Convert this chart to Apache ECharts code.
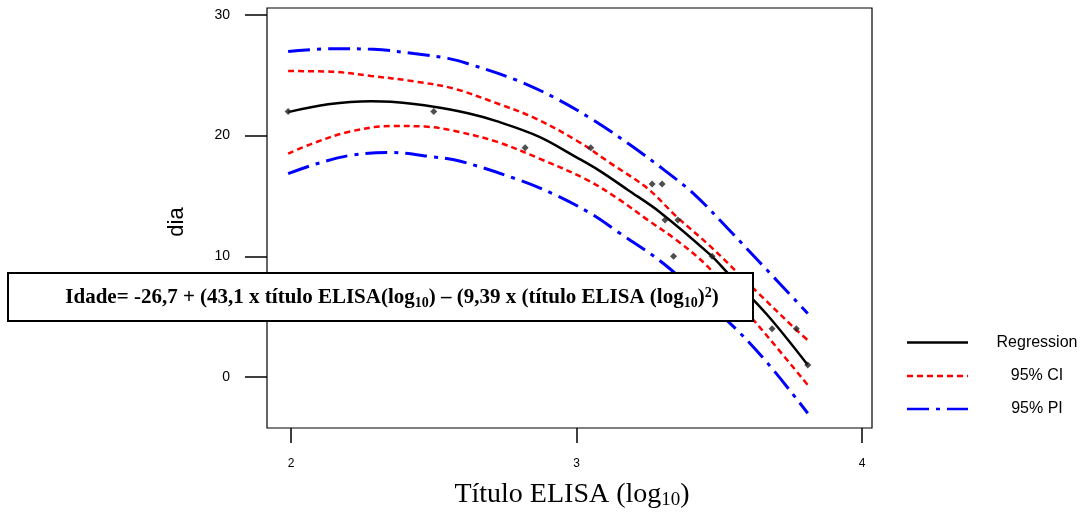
<!DOCTYPE html>
<html>
<head>
<meta charset="utf-8">
<script src="https://cdn.jsdelivr.net/npm/echarts@6/dist/echarts.min.js"></script>
<style>
  html, body { margin: 0; padding: 0; background: #fff; }
  #chart { width: 1088px; height: 517px; }
</style>
</head>
<body>
<div id="chart"></div>
<script>
// Axis ticks
const xTicks = [2, 3, 4];
const yTicks = [0, 10, 20, 30];

// Observed ages (dia) against ELISA titre (log10)
const observed = [
  [1.99, 22], [2.5, 22], [2.82, 19], [3.05, 19], [3.265, 16], [3.30, 16],
  [3.31, 13], [3.355, 13], [3.34, 10], [3.475, 10], [3.685, 4], [3.77, 4], [3.81, 1]
];

// Fitted quadratic regression
const regression = [
  [1.99, 21.95], [2.13, 22.6], [2.28, 22.85], [2.35, 22.8], [2.50, 22.4], [2.62, 21.85],
  [2.72, 21.2], [2.87, 19.9], [3.00, 18.2], [3.08, 17.1], [3.18, 15.5], [3.29, 13.7],
  [3.47, 10.1], [3.53, 8.6], [3.67, 5.1], [3.81, 1.0]
];

// 95% confidence band
const ciUpper = [
  [1.99, 25.35], [2.14, 25.3], [2.28, 24.95], [2.43, 24.5], [2.57, 23.9], [2.73, 22.6],
  [2.85, 21.5], [3.00, 19.6], [3.12, 17.7], [3.25, 15.6], [3.35, 13.3], [3.47, 10.8],
  [3.63, 7.1], [3.77, 3.9], [3.81, 3.05]
];
const ciLower = [
  [1.99, 18.5], [2.07, 19.3], [2.20, 20.3], [2.35, 20.8], [2.47, 20.75], [2.57, 20.4],
  [2.72, 19.5], [2.87, 18.1], [3.04, 16.3], [3.15, 14.7], [3.25, 13.0], [3.35, 11.35],
  [3.46, 9.14], [3.61, 5.0], [3.67, 3.34], [3.81, -0.66]
];

// 95% prediction band
const piUpper = [
  [1.99, 26.98], [2.14, 27.2], [2.29, 27.15], [2.43, 26.8], [2.55, 26.4], [2.62, 25.96],
  [2.79, 24.6], [2.93, 23.06], [3.06, 21.27], [3.19, 19.2], [3.31, 17.1], [3.41, 15.2],
  [3.53, 12.3], [3.64, 9.55], [3.81, 5.27]
];
const piLower = [
  [1.99, 16.85], [2.09, 17.67], [2.21, 18.37], [2.35, 18.6], [2.50, 18.23], [2.59, 17.9],
  [2.79, 16.4], [2.93, 15.05], [3.06, 13.4], [3.14, 12.1], [3.31, 9.3], [3.55, 4.17],
  [3.67, 1.13], [3.81, -3.0]
];

const legendItems = ['Regression', '95% CI', '95% PI'];

const SANS = 'Liberation Sans, Arial, sans-serif';
const SERIF = 'Liberation Serif, Times New Roman, serif';
const RED_DASH = [6, 4];
const BLUE_DASH = [22, 7, 4, 7];

const chart = echarts.init(document.getElementById('chart'), null, { renderer: 'canvas' });

function band(name, data, color, dash, width) {
  return {
    name: name, type: 'line', data: data, smooth: 0.35, symbol: 'none', z: 3,
    lineStyle: { color: color, width: width, type: dash }
  };
}

const legendY = [342.5, 376, 409];
const legendStyles = [
  { stroke: '#000', lineWidth: 2.5 },
  { stroke: '#ff0000', lineWidth: 2.5, lineDash: RED_DASH },
  { stroke: '#0000ff', lineWidth: 2.5, lineDash: BLUE_DASH }
];

const graphics = [];
legendItems.forEach(function (label, i) {
  graphics.push({
    type: 'line', z: 50,
    shape: { x1: 907, y1: legendY[i], x2: 968, y2: legendY[i] },
    style: legendStyles[i]
  });
  graphics.push({
    type: 'text', z: 50, x: 1037, y: legendY[i],
    style: {
      text: label, fill: '#000', font: '16px ' + SANS,
      align: 'center', verticalAlign: 'middle', textAlign: 'center', textVerticalAlign: 'middle'
    }
  });
});

// Y axis title
graphics.push({
  type: 'text', z: 50, x: 177, y: 222, rotation: Math.PI / 2,
  style: {
    text: 'dia', fill: '#000', font: '22px ' + SANS,
    align: 'center', verticalAlign: 'middle', textAlign: 'center', textVerticalAlign: 'middle'
  }
});

// X axis title with subscript
graphics.push({
  type: 'text', z: 50, x: 572, y: 495,
  style: {
    text: '{m|Título ELISA (log}{s|10}{m|)}',
    align: 'center', verticalAlign: 'middle', textAlign: 'center', textVerticalAlign: 'middle',
    rich: {
      m: { fontFamily: SERIF, fontSize: 28, lineHeight: 30, fill: '#000', color: '#000' },
      s: { fontFamily: SERIF, fontSize: 19, lineHeight: 14, verticalAlign: 'bottom', fill: '#000', color: '#000' }
    }
  }
});

// Regression equation box
graphics.push({
  type: 'rect', z: 100,
  shape: { x: 8, y: 273, width: 745, height: 48 },
  style: { fill: '#fff', stroke: '#000', lineWidth: 2 }
});
graphics.push({
  type: 'text', z: 101, x: 392, y: 298,
  style: {
    text: '{b|Idade= -26,7 + (43,1 x título ELISA(log}{s|10}{b|) – (9,39 x (título ELISA (log}{s|10}{b|)}{p|2}{b|)}',
    align: 'center', verticalAlign: 'middle', textAlign: 'center', textVerticalAlign: 'middle',
    rich: {
      b: { fontFamily: SERIF, fontWeight: 'bold', fontSize: 21, lineHeight: 24, fill: '#000', color: '#000' },
      s: { fontFamily: SERIF, fontWeight: 'bold', fontSize: 14, lineHeight: 13, verticalAlign: 'bottom', fill: '#000', color: '#000' },
      p: { fontFamily: SERIF, fontWeight: 'bold', fontSize: 14, lineHeight: 14, verticalAlign: 'top', fill: '#000', color: '#000' }
    }
  }
});

chart.setOption({
  animation: false,
  backgroundColor: '#fff',
  grid: {
    left: 267, top: 8, width: 605, height: 420,
    show: true, borderColor: '#000', borderWidth: 1.2, backgroundColor: 'transparent'
  },
  xAxis: {
    type: 'value', min: 1.916, max: 4.035,
    axisLine: { show: false, onZero: false },
    splitLine: { show: false },
    axisTick: { show: true, customValues: xTicks, length: 15, lineStyle: { color: '#000', width: 1.5 } },
    axisLabel: { customValues: xTicks, color: '#000', fontSize: 12, fontFamily: SANS, margin: 30 }
  },
  yAxis: {
    type: 'value', min: -4.225, max: 30.575,
    axisLine: { show: false, onZero: false },
    splitLine: { show: false },
    axisTick: { show: true, customValues: yTicks, length: 22, lineStyle: { color: '#000', width: 1.5 } },
    axisLabel: { customValues: yTicks, color: '#000', fontSize: 14, fontFamily: SANS, margin: 37 }
  },
  series: [
    band('95% PI upper', piUpper, '#0000ff', BLUE_DASH, 3),
    band('95% PI lower', piLower, '#0000ff', BLUE_DASH, 3),
    band('95% CI upper', ciUpper, '#ff0000', RED_DASH, 2.5),
    band('95% CI lower', ciLower, '#ff0000', RED_DASH, 2.5),
    {
      name: 'Regression', type: 'line', data: regression, smooth: 0.35, symbol: 'none', z: 4,
      lineStyle: { color: '#000', width: 2.5 }
    },
    {
      name: 'Observed', type: 'scatter', data: observed, z: 5,
      symbol: 'diamond', symbolSize: 7, itemStyle: { color: '#222' }
    }
  ],
  graphic: { elements: graphics }
});
</script>
</body>
</html>
